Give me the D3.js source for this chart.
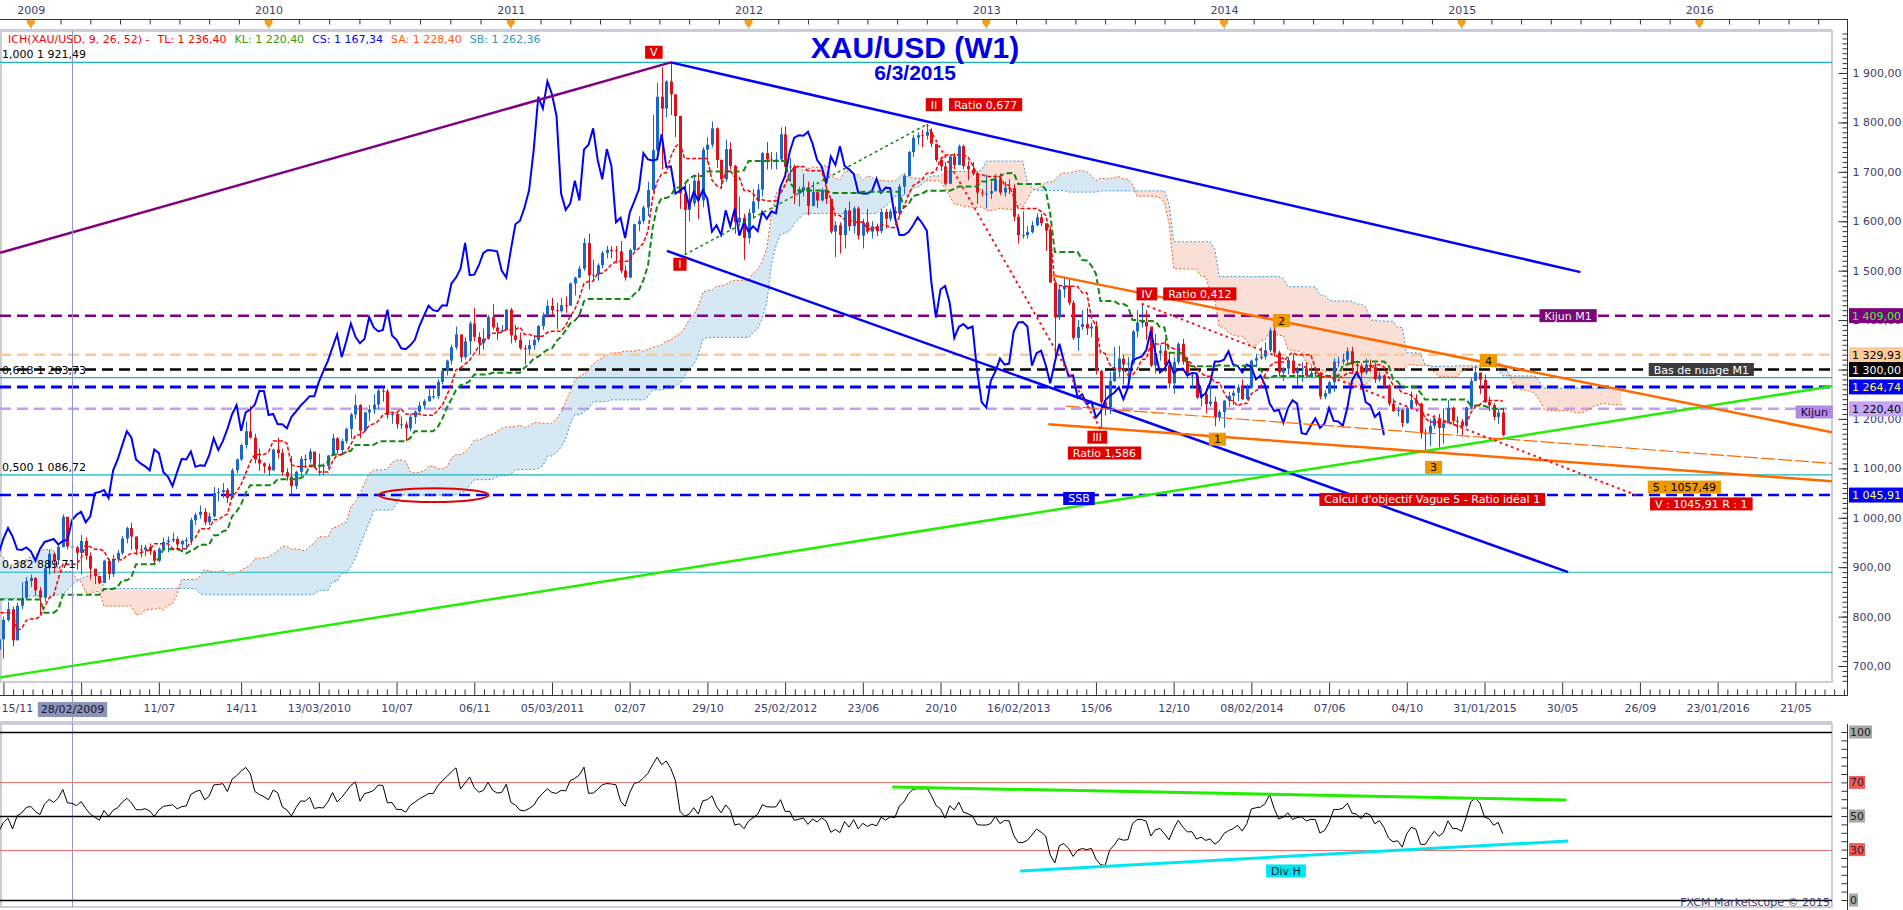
<!DOCTYPE html>
<html lang="fr">
<head>
<meta charset="utf-8">
<title>XAU/USD (W1)</title>
<script src="https://cdn.jsdelivr.net/npm/d3@7/dist/d3.min.js"></script>
<style>
  body { margin: 0; background: #fff; }
  svg { display: block; font-family: "DejaVu Sans", Verdana, sans-serif; font-size: 11px; }
</style>
</head>
<body>
<svg id="chart" width="1903" height="910"></svg>
<script>
// weekly candles [high, low, close], each week dated by its Saturday (FXCM style)
const firstWeek = '2007-04-28';
const w2007 = [
  [690,672,683],[694,674,674],[678,660,668],[672,652,656],[668,651,659],
  [670,653,656],[660,642,647],[662,645,656],[660,640,650],[662,648,656],
  [670,653,666],[685,662,681],[690,662,667],[674,660,670],
  [679,662,671],[675,650,662],[672,655,668],[677,660,673],
  [700,673,698],[715,695,712],[735,708,730],[745,720,743],[745,728,737],
  [750,735,749],[770,745,765],[790,764,789],[810,785,808],
  [845,800,833],[835,775,786],[830,785,825],[818,778,783],
  [808,783,803],[818,785,797],[815,792,812],[840,810,838]
];
const w2008 = [
  [870,836,863],
  [900,853,895],[915,871,882],[922,865,910],[936,905,922],
  [925,890,912],[925,895,906],[950,905,944],[975,935,972],
  [990,955,970],[1000,960,993],[1033,995,1006],[1012,915,925],[945,900,905],
  [935,895,926],[940,908,915],[945,895,899],[900,860,864],
  [890,856,885],[900,870,897],[935,895,924],[933,880,885],[905,870,897],
  [903,866,873],[905,875,902],[920,880,915],[946,913,935],
  [945,915,935],[980,930,958],[988,920,928],[932,905,913],
  [915,860,864],[870,772,787],[840,785,832],[840,810,835],[835,784,800],
  [800,741,762],[875,740,865],[915,860,880],[905,825,837],
  [935,855,860],[865,775,788],[800,681,736],[770,705,720],
  [765,715,733],[755,705,754],[800,715,793],[830,790,815],[820,740,752],
  [828,752,822],[870,815,838],[880,835,872],[885,860,878]
];
const w2009 = [
  [880,842,853],[860,805,838],[900,830,898],[935,885,927],[930,888,914],
  [948,905,941],[1007,940,1002],[1000,936,942],[955,902,940],
  [943,895,929],[965,885,953],[960,915,923],[930,875,897],
  [895,865.7,882],[880,866,868],[915,868,913],[915,875,886],
  [925,880,916],[935,910,929],[963,925,958],[982,948,979],[990,935,962],
  [962,925,936],[945,920,935],[945,922,940],[948,925,932],
  [935,905,913],[940,910,937],[960,935,951],[962,930,954],
  [970,950,957],[962,935,946],[955,930,953],[960,935,955],[1000,945,995],
  [1010,985,1006],[1025,998,1012],[1020,985,991],[1010,985,1003],
  [1062,1000,1050],[1060,1033,1052],[1070,1040,1056],[1060,1030,1040],[1100,1040,1096],
  [1120,1090,1118],[1150,1115,1147],[1195,1140,1175],[1226.1,1160,1162],
  [1170,1110,1118],[1140,1095,1110],[1112,1090,1104],[1110,1085,1096]
];
const w2010 = [
  [1140,1095,1138],[1162,1120,1131],[1140,1085,1092],[1100,1075,1083],[1125,1045,1064],
  [1095,1058,1093],[1125,1085,1119],[1128,1100,1118],[1140,1110,1134],
  [1128,1100,1103],[1130,1085,1106],[1110,1087,1105],[1127,1100,1126],
  [1170,1125,1161],[1163,1130,1137],[1160,1130,1155],[1182,1150,1180],
  [1212,1160,1209],[1249,1200,1228],[1230,1161,1176],[1215,1175,1213],[1228,1196,1219],
  [1250,1210,1229],[1262,1220,1257],[1265,1235,1256],[1260,1200,1208],
  [1215,1190,1210],[1215,1180,1189],[1205,1180,1189],[1195,1155,1181],[1210,1175,1204],
  [1217,1190,1215],[1235,1212,1227],[1240,1220,1236],[1260,1235,1246],
  [1260,1240,1246],[1280,1240,1275],[1300,1270,1297],[1320,1288,1318],
  [1350,1310,1345],[1387,1340,1371],[1370,1315,1325],[1365,1320,1357],[1398,1330,1393],
  [1425,1357,1366],[1375,1330,1353],[1383,1340,1362],[1410,1360,1406],
  [1432,1380,1385],[1395,1360,1377],[1390,1375,1380],[1422,1380,1421]
];
const w2011 = [
  [1425,1353,1369],[1390,1355,1360],[1375,1340,1343],[1350,1310,1341],[1360,1330,1349],
  [1370,1340,1360],[1390,1355,1388],[1415,1380,1409],[1440,1405,1429],
  [1445,1410,1420],[1435,1382,1418],[1445,1415,1430],[1448,1415,1429],
  [1476,1430,1474],[1488,1450,1486],[1510,1485,1504],[1566,1500,1556],[1575,1462,1491],
  [1522,1480,1492],[1515,1480,1511],[1540,1505,1536],[1550,1525,1542],
  [1550,1525,1541],[1550,1515,1539],[1560,1495,1500],[1510,1480,1486],
  [1545,1485,1542],[1595,1540,1594],[1610,1580,1601],[1632,1595,1628],[1680,1610,1663],
  [1815,1660,1744],[1880,1740,1852],[1912,1705,1828],[1885,1810,1883],
  [1921.49,1815,1857],[1835,1770,1813],[1813,1625,1656],[1680,1532,1623],
  [1675,1600,1636],[1695,1630,1682],[1698,1604,1642],[1750,1628,1745],[1770,1720,1755],
  [1802,1750,1788],[1790,1708,1724],[1725,1670,1685],[1765,1680,1746],
  [1760,1705,1712],[1714,1575,1598],[1650,1590,1607],[1615,1522,1566]
];
const w2012 = [
  [1625,1555,1617],
  [1665,1605,1640],[1675,1625,1664],[1740,1650,1738],[1760,1705,1725],
  [1740,1705,1723],[1740,1705,1725],[1790,1720,1776],[1792,1688,1710],
  [1728,1680,1711],[1715,1635,1656],[1670,1630,1662],[1696,1650,1669],[1680,1612,1631],
  [1680,1630,1659],[1660,1627,1642],[1668,1640,1663],[1670,1635,1645],
  [1645,1575,1579],[1600,1527,1592],[1598,1535,1572],[1627,1545,1622],
  [1640,1580,1590],[1630,1575,1626],[1630,1563,1571],[1605,1545,1598],[1625,1575,1579],
  [1600,1565,1590],[1595,1570,1580],[1625,1575,1619],[1625,1585,1605],
  [1625,1600,1620],[1630,1598,1616],[1675,1610,1670],[1695,1655,1692],
  [1742,1690,1740],[1775,1730,1769],[1780,1755,1774],[1785,1750,1773],[1796,1765,1781],
  [1788,1750,1757],[1755,1720,1724],[1730,1702,1711],[1720,1672,1676],
  [1735,1675,1731],[1738,1705,1714],[1755,1713,1752],[1755,1705,1712],
  [1722,1683,1705],[1720,1692,1696],[1700,1635,1658],[1665,1650,1656]
];
const w2013 = [
  [1695,1626,1656],
  [1680,1645,1661],[1695,1660,1686],[1697,1653,1658],[1680,1650,1668],
  [1685,1655,1667],[1675,1600,1609],[1615,1555,1572],[1620,1565,1572],
  [1590,1565,1578],[1600,1575,1592],[1616,1590,1608],[1615,1590,1596],[1585,1540,1581],
  [1590,1475,1476],[1480,1321,1405],[1470,1400,1462],[1488,1445,1469],
  [1485,1430,1435],[1440,1360,1364],[1400,1338,1386],[1420,1380,1392],
  [1425,1370,1383],[1395,1365,1387],[1398,1290,1297],[1300,1180,1234],[1268,1207,1223],
  [1295,1210,1277],[1346,1275,1296],[1348,1285,1322],[1330,1270,1310],
  [1325,1275,1312],[1380,1310,1377],[1420,1365,1395],[1433,1385,1396],[1420,1360,1387],
  [1385,1305,1308],[1372,1292,1333],[1350,1318,1338],[1362,1295,1309],
  [1335,1262,1272],[1325,1251,1315],[1355,1310,1352],[1362,1310,1316],
  [1325,1282,1287],[1295,1262,1288],[1292,1240,1243],[1262,1225,1250],[1262,1211,1230],
  [1267,1225,1235],[1245,1185,1203],[1218,1195,1214],[1238,1182,1237]
];
const w2014 = [
  [1255,1224,1247],[1258,1228,1253],[1270,1236,1264],[1280,1238,1240],
  [1270,1238,1263],[1320,1262,1318],[1332,1305,1323],[1345,1320,1326],
  [1355,1320,1339],[1385,1335,1379],[1392,1326,1334],[1338,1286,1294],[1305,1277,1302],
  [1325,1290,1318],[1331,1290,1293],[1305,1268,1300],[1315,1275,1302],
  [1315,1285,1288],[1306,1285,1293],[1300,1285,1292],[1295,1240,1245],[1258,1240,1252],
  [1277,1250,1274],[1323,1255,1316],[1326,1305,1316],[1332,1310,1320],
  [1345,1310,1337],[1346,1292,1310],[1318,1285,1307],[1312,1282,1294],
  [1322,1290,1310],[1320,1295,1305],[1313,1273,1280],[1295,1275,1288],[1290,1264,1268],
  [1270,1226,1231],[1241,1214,1216],[1225,1205,1218],[1220,1183,1192],
  [1225,1190,1222],[1255,1220,1238],[1250,1226,1231],[1233,1160,1171],
  [1180,1132.7,1169],[1200,1145,1186],[1208,1180,1201],[1210,1142,1182],[1222,1150,1191],
  [1238,1195,1222],[1225,1186,1196],[1205,1170,1195],[1200,1167,1186]
];
const w2015 = [
  [1225,1183,1223],[1283,1220,1277],[1307.8,1276,1294],[1289,1250,1279],[1290,1232,1234],
  [1245,1216,1228],[1232,1197,1204],[1220,1190,1213],[1222,1165,1167.34]
];

// legend of the Ichimoku study
const legendNames = ['ICH(XAU/USD, 9, 26, 52) -', 'TL:', 'KL:', 'CS:', 'SA:', 'SB:'];
const legendValues = [null, 1236.40, 1220.40, 1167.34, 1228.40, 1262.36];

// Fibonacci retracement
const fibRatios = ['1,000', '0,618', '0,500', '0,382'];
const fibLevels = [1921.49, 1283.73, 1086.72, 889.71];

// horizontal levels with a price tag on the axis
const levelValues = [1409.00, 1329.93, 1300.00, 1264.74, 1220.40, 1045.91];

// names written on some of the levels
const lineTagTexts = ['Kijun M1', 'Bas de nuage M1', 'Kijun', 'SSB'];
const lineTagDates = ['2015-06-08', '2015-12-29', '2016-06-19', '2013-05-20'];
const lineTagPrices = [1409.00, 1300.00, 1214.00, 1039.00];

// Elliott labels (red)
const waveTexts = ['V', 'I', 'II', 'Ratio 0,677', 'III', 'Ratio 1,586', 'IV', 'Ratio 0,412',
  "Calcul d'objectif Vague 5 - Ratio idéal 1", 'V : 1045,91 R : 1'];
const waveDates = ['2011-08-08', '2011-09-17', '2012-10-10', '2012-12-28', '2013-06-17', '2013-06-28',
  '2013-09-01', '2013-11-21', '2014-11-12', '2015-12-29'];
const wavePrices = [1942, 1513, 1836, 1836, 1163, 1131, 1453, 1453, 1037, 1028];

// sub-wave counts (orange)
const countTexts = ['1', '2', '3', '4', '5 : 1057,49'];
const countDates = ['2013-12-18', '2014-03-26', '2014-11-14', '2015-02-06', '2015-12-03'];
const countPrices = [1159, 1399, 1102, 1318, 1062];

// drawn trend lines: [date, price] end points
const trendPurple = [['2008-11-10', 1536], ['2011-09-03', 1921.49]];
const trendBlueUpper = [['2011-09-03', 1921.49], ['2015-06-27', 1497]];
const trendBlueLower = [['2011-08-28', 1540], ['2015-06-08', 890]];
const trendGreen = [['2008-11-10', 677], ['2016-07-16', 1266]];
const trendOrangeUpper = [['2013-04-09', 1491], ['2016-07-16', 1173]];
const trendOrangeLower = [['2013-04-03', 1189], ['2016-07-16', 1074]];
const trendOrangeThin = [['2013-04-30', 1226], ['2016-07-16', 1110]];
const waveIToII = [['2011-09-24', 1532], ['2012-09-29', 1796]];
const waveIIToIII = [['2012-09-29', 1796], ['2013-06-22', 1180]];
const waveIVToV = [['2013-08-24', 1433], ['2015-09-20', 1045.91]];

// red ellipse around the flat SSB
const ellipseCenter = ['2010-09-05', 1045.91];
const ellipseHalfDays = 84;
const ellipseHalfPrice = 14;

// RSI panel
const rsiLevels = [100, 70, 50, 30, 0];
const rsiResistance = [['2012-08-07', 67.3], ['2015-06-05', 59.5]];
const rsiSupport = [['2013-02-19', 17.3], ['2015-06-08', 35.1]];
const rsiTagText = 'Div H';
const rsiTagPoint = ['2014-04-02', 17.3];

// time axes
const yearLabels = ['2009', '2010', '2011', '2012', '2013', '2014', '2015', '2016'];
const yearTickDates = ['2008-12-27', '2009-12-26', '2011-01-01', '2011-12-31', '2012-12-29',
  '2013-12-28', '2014-12-27', '2015-12-26'];
const dateTickDates = ['2008-11-15', '2009-03-14', '2009-07-11', '2009-11-14', '2010-03-13',
  '2010-07-10', '2010-11-06', '2011-03-05', '2011-07-02', '2011-10-29', '2012-02-25',
  '2012-06-23', '2012-10-20', '2013-02-16', '2013-06-15', '2013-10-12', '2014-02-08',
  '2014-06-07', '2014-10-04', '2015-01-31', '2015-05-30', '2015-09-26', '2016-01-23', '2016-05-21'];
const dateTickLabels = ['15/11', '', '11/07', '14/11', '13/03/2010', '10/07', '06/11',
  '05/03/2011', '02/07', '29/10', '25/02/2012', '23/06', '20/10', '16/02/2013', '15/06',
  '12/10', '08/02/2014', '07/06', '04/10', '31/01/2015', '30/05', '26/09', '23/01/2016', '21/05'];
const cursorDate = '2009-02-28';
const cursorLabel = '28/02/2009';

const titleText = 'XAU/USD (W1)';
const subtitleText = '6/3/2015';
const creditText = 'FXCM Marketscope © 2015';

// ---------------------------------------------------------------------------
const parseDay = d3.timeParse('%Y-%m-%d');
const fmtPrice = d3.formatLocale({ decimal: ',', thousands: ' ', grouping: [3], currency: ['', ''] })
  .format(',.2f');

const svg = d3.select('#chart');
const plotLeft = 0, plotRight = 1832, plotTop = 31, plotBottom = 682;
const rsiTop = 724, rsiBottom = 907;
const axisX = 1847;
const axisColor = '#3d3d6b';
const upColor = '#1a66cc', downColor = '#e0101a';

const x = d3.scaleTime()
  .domain([parseDay('2009-02-28'), parseDay('2015-01-31')])
  .range([72, 1484.5]);
const y = d3.scaleLinear().domain([700, 1900]).range([666, 73]);
const yR = d3.scaleLinear().domain([0, 100]).range([900, 732]);

const start = parseDay(firstWeek);
const weekDate = i => d3.timeDay.offset(start, 7 * i);
const rows = [].concat(w2007, w2008, w2009, w2010, w2011, w2012, w2013, w2014, w2015);
const candles = rows.map((r, i) => ({
  date: weekDate(i), high: r[0], low: r[1], close: r[2], open: i ? rows[i - 1][2] : r[2]
}));

// Ichimoku 9 / 26 / 52
function midRange(i, n) {
  if (i < n - 1) return null;
  const win = candles.slice(i - n + 1, i + 1);
  return (d3.max(win, d => d.high) + d3.min(win, d => d.low)) / 2;
}
const tenkan = candles.map((d, i) => ({ date: d.date, v: midRange(i, 9) }));
const kijun = candles.map((d, i) => ({ date: d.date, v: midRange(i, 26) }));
const cloud = candles.map((d, i) => ({
  date: weekDate(i + 26),
  a: kijun[i].v == null ? null : (tenkan[i].v + kijun[i].v) / 2,
  b: midRange(i, 52)
})).filter(d => d.a != null && d.b != null);
const chikou = candles.slice(26).map((d, i) => ({ date: candles[i].date, v: d.close }));

// RSI 14 (Wilder)
const rsi = [];
let avgGain = 0, avgLoss = 0;
for (let i = 1; i < candles.length; i++) {
  const ch = candles[i].close - candles[i - 1].close;
  const g = Math.max(ch, 0), l = Math.max(-ch, 0);
  if (i <= 14) { avgGain += g / 14; avgLoss += l / 14; }
  else { avgGain = (avgGain * 13 + g) / 14; avgLoss = (avgLoss * 13 + l) / 14; }
  if (i >= 14) rsi.push({ date: candles[i].date, v: 100 - 100 / (1 + avgGain / avgLoss) });
}

const defs = svg.append('defs');
defs.append('clipPath').attr('id', 'clipMain').append('rect')
  .attr('x', plotLeft).attr('y', plotTop).attr('width', plotRight - plotLeft).attr('height', plotBottom - plotTop);
defs.append('clipPath').attr('id', 'clipRsi').append('rect')
  .attr('x', plotLeft).attr('y', rsiTop).attr('width', plotRight - plotLeft).attr('height', rsiBottom - rsiTop);

// frames
svg.append('rect').attr('x', plotLeft + 1).attr('y', plotTop).attr('width', plotRight - plotLeft - 1)
  .attr('height', plotBottom - plotTop).attr('fill', '#fff').attr('stroke', '#c9ced8').attr('stroke-width', 2);
svg.append('rect').attr('x', plotLeft + 1).attr('y', rsiTop).attr('width', plotRight - plotLeft - 1)
  .attr('height', rsiBottom - rsiTop).attr('fill', '#fff').attr('stroke', '#c9ced8').attr('stroke-width', 2);

const main = svg.append('g').attr('clip-path', 'url(#clipMain)');

// cloud
main.append('path').datum(cloud).attr('fill', '#d5e8f4')
  .attr('d', d3.area().x(d => x(d.date)).y0(d => y(d.b)).y1(d => y(Math.max(d.a, d.b))));
main.append('path').datum(cloud).attr('fill', '#f9dfd5')
  .attr('d', d3.area().x(d => x(d.date)).y0(d => y(d.a)).y1(d => y(Math.max(d.a, d.b))));

// fibonacci lines
main.selectAll('line.fib').data(fibLevels).join('line').attr('class', 'fib')
  .attr('x1', plotLeft).attr('x2', plotRight)
  .attr('y1', d => y(d)).attr('y2', d => y(d))
  .attr('stroke', '#19b4bb').attr('stroke-width', 1.2);

// horizontal dashed levels
const levelStroke = ['#800080', '#ffc995', '#000000', '#0000ff', '#c49cf6', '#0000ff'];
const levelWidth = [2.5, 2.5, 2.5, 3, 2.5, 2.5];
main.selectAll('line.level').data(levelValues).join('line').attr('class', 'level')
  .attr('x1', plotLeft).attr('x2', plotRight)
  .attr('y1', d => y(d)).attr('y2', d => y(d))
  .attr('stroke', (d, i) => levelStroke[i]).attr('stroke-width', (d, i) => levelWidth[i])
  .attr('stroke-dasharray', '11,6');

// cloud borders
main.append('path').datum(cloud).attr('fill', 'none').attr('stroke', '#ff5a14')
  .attr('stroke-width', 1).attr('stroke-dasharray', '2,2')
  .attr('d', d3.line().x(d => x(d.date)).y(d => y(d.a)));
main.append('path').datum(cloud).attr('fill', 'none').attr('stroke', '#3a9ad6')
  .attr('stroke-width', 1).attr('stroke-dasharray', '2,2')
  .attr('d', d3.line().x(d => x(d.date)).y(d => y(d.b)));

// candles
const vis = candles.filter(d => x(d.date) > -6);
const colorOf = d => d.close >= d.open ? upColor : downColor;
const candleG = main.append('g');
candleG.selectAll('line').data(vis).join('line')
  .attr('x1', d => Math.round(x(d.date)) + 0.5).attr('x2', d => Math.round(x(d.date)) + 0.5)
  .attr('y1', d => y(d.high)).attr('y2', d => y(d.low))
  .attr('stroke', colorOf).attr('stroke-width', 1);
candleG.selectAll('rect').data(vis).join('rect')
  .attr('x', d => Math.round(x(d.date)) - 1).attr('width', 3)
  .attr('y', d => y(Math.max(d.open, d.close)))
  .attr('height', d => Math.max(1, Math.abs(y(d.open) - y(d.close))))
  .attr('fill', colorOf);

// chikou, tenkan, kijun
const valueLine = d3.line().defined(d => d.v != null).x(d => x(d.date)).y(d => y(d.v));
main.append('path').datum(chikou).attr('fill', 'none').attr('stroke', '#0000ff')
  .attr('stroke-width', 2).attr('d', valueLine);
main.append('path').datum(kijun).attr('fill', 'none').attr('stroke', '#118811')
  .attr('stroke-width', 2).attr('stroke-dasharray', '6,3').attr('d', valueLine);
main.append('path').datum(tenkan).attr('fill', 'none').attr('stroke', '#ff0000')
  .attr('stroke-width', 1.5).attr('stroke-dasharray', '4,2').attr('d', valueLine);

// trend lines
const seg = d3.line().x(d => x(parseDay(d[0]))).y(d => y(d[1]));
const trendStyles = [
  [trendPurple, '#800080', 2.5, null],
  [trendBlueUpper, '#0000ff', 2.5, null],
  [trendBlueLower, '#0000ff', 2.5, null],
  [trendGreen, '#22ee00', 2.5, null],
  [trendOrangeUpper, '#ff6a00', 2.5, null],
  [trendOrangeLower, '#ff6a00', 2.5, null],
  [trendOrangeThin, '#ff6a00', 1.2, '14,3'],
  [waveIToII, '#118811', 1.5, '3,3'],
  [waveIIToIII, '#ff1010', 2, '2.5,3.5'],
  [waveIVToV, '#ff1010', 2, '2.5,3.5']
];
trendStyles.forEach(([pts, color, w, dash]) => {
  main.append('path').datum(pts).attr('fill', 'none').attr('stroke', color)
    .attr('stroke-width', w).attr('stroke-dasharray', dash).attr('d', seg);
});

// ellipse
const ec = parseDay(ellipseCenter[0]);
main.append('ellipse')
  .attr('cx', x(ec)).attr('cy', y(ellipseCenter[1]))
  .attr('rx', x(d3.timeDay.offset(ec, ellipseHalfDays)) - x(ec))
  .attr('ry', y(ellipseCenter[1] - ellipseHalfPrice) - y(ellipseCenter[1]))
  .attr('fill', 'none').attr('stroke', '#e00000').attr('stroke-width', 2);

// cursor line
const cx0 = Math.round(x(parseDay(cursorDate))) + 0.5;
svg.append('line').attr('x1', cx0).attr('x2', cx0).attr('y1', plotTop).attr('y2', rsiBottom)
  .attr('stroke', '#8f98c8').attr('stroke-width', 1);

// ---------------------------------------------------------------------------
// boxed labels
function boxLabel(g, cx, cy, text, fill, color, h) {
  const t = g.append('text').attr('x', cx).attr('y', cy + 4).attr('text-anchor', 'middle')
    .attr('fill', color).text(text);
  const w = t.node().getComputedTextLength() + 10;
  g.insert('rect', () => t.node()).attr('x', cx - w / 2).attr('y', cy - (h || 13) / 2)
    .attr('width', w).attr('height', h || 13).attr('fill', fill);
}
const labels = svg.append('g');
waveTexts.forEach((t, i) => boxLabel(labels, x(parseDay(waveDates[i])), y(wavePrices[i]), t, '#e00000', '#ffffff'));
countTexts.forEach((t, i) => boxLabel(labels, x(parseDay(countDates[i])), y(countPrices[i]), t, '#f09800', '#000000'));
const lineTagFill = ['#7a087a', '#3c3c3c', '#b28ae6', '#0000ee'];
const lineTagColor = ['#f0f0f0', '#ffffff', '#200030', '#ffffff'];
lineTagTexts.forEach((t, i) => boxLabel(labels, x(parseDay(lineTagDates[i])), y(lineTagPrices[i]), t, lineTagFill[i], lineTagColor[i]));

// fibonacci labels
labels.selectAll('text.fibl').data(fibLevels).join('text').attr('class', 'fibl')
  .attr('x', 2).attr('y', d => y(d) - 4).attr('fill', '#000')
  .text((d, i) => fibRatios[i] + ' ' + fmtPrice(d));

// legend
const legendColors = ['#ff0000', '#ff0000', '#3a9a00', '#0000ff', '#ff5a1a', '#3399cc'];
let lx = 8;
legendNames.forEach((n, i) => {
  const t = labels.append('text').attr('x', lx).attr('y', 43).attr('fill', legendColors[i])
    .text(legendValues[i] == null ? n : n + ' ' + fmtPrice(legendValues[i]));
  lx += t.node().getComputedTextLength() + 8;
});

// title
labels.append('text').attr('x', 915).attr('y', 58).attr('text-anchor', 'middle')
  .attr('font-family', '"Liberation Sans", Arial, sans-serif').attr('font-weight', 'bold')
  .attr('font-size', 30).attr('fill', '#0000e6').text(titleText);
labels.append('text').attr('x', 915).attr('y', 80).attr('text-anchor', 'middle')
  .attr('font-family', '"Liberation Sans", Arial, sans-serif').attr('font-weight', 'bold')
  .attr('font-size', 21).attr('fill', '#0000e6').text(subtitleText);

// ---------------------------------------------------------------------------
// axes
function styleAxis(g) {
  g.attr('font-family', '"DejaVu Sans", Verdana, sans-serif').attr('font-size', 11).attr('color', '#333');
  g.selectAll('text').attr('fill', axisColor);
  g.select('.domain').remove();
}
function ticksOnly(g) {
  styleAxis(g);
  g.selectAll('text').remove();
}

// top: years
svg.append('line').attr('x1', 0).attr('x2', axisX).attr('y1', 19.5).attr('y2', 19.5).attr('stroke', '#333');
const yearDates = yearTickDates.map(parseDay);
const topMinor = [];
yearDates.forEach((d, i) => {
  const next = i < yearDates.length - 1 ? yearDates[i + 1] : d3.timeDay.offset(d, 364);
  for (let k = 1; k < 8; k++) topMinor.push(new Date(+d + (next - d) * k / 8));
});
svg.append('g').attr('transform', 'translate(0,19.5)')
  .call(d3.axisTop(x).tickValues(topMinor.filter(d => x(d) < axisX - 2)).tickSizeInner(-5).tickSizeOuter(0))
  .call(ticksOnly);
svg.append('g').attr('transform', 'translate(0,19.5)')
  .call(d3.axisTop(x).tickValues(yearDates).tickFormat((d, i) => yearLabels[i]).tickSizeInner(-11).tickSizeOuter(0).tickPadding(6))
  .call(styleAxis)
  .call(g => g.selectAll('.tick line').attr('stroke', '#b8bcc8'));
svg.append('g').selectAll('path').data(yearDates).join('path')
  .attr('d', d => { const px = x(d); return `M${px - 4},20 L${px + 4},20 L${px + 4},23 L${px},28 L${px - 4},23 Z`; })
  .attr('fill', '#f5a020');
svg.append('line').attr('x1', 0).attr('x2', plotRight).attr('y1', 30).attr('y2', 30).attr('stroke', '#c9ced8').attr('stroke-width', 2);

// right: prices
svg.append('line').attr('x1', axisX + 0.5).attr('x2', axisX + 0.5).attr('y1', 19).attr('y2', 696).attr('stroke', '#333');
svg.append('g').attr('transform', `translate(${axisX + 0.5},0)`)
  .call(d3.axisRight(y).tickValues(d3.range(670, 1990, 10)).tickSizeInner(-5).tickSizeOuter(0))
  .call(ticksOnly);
svg.append('g').attr('transform', `translate(${axisX + 0.5},0)`)
  .call(d3.axisRight(y).tickValues(d3.range(700, 1901, 100)).tickFormat(fmtPrice).tickSizeInner(-9).tickSizeOuter(0).tickPadding(5))
  .call(styleAxis);

// price tags on the axis
const tagFill = ['#800080', '#ffc995', '#000000', '#0000ff', '#c8a4f4', '#0000ff'];
const tagColor = ['#33ff33', '#000000', '#ffffff', '#ffff44', '#000000', '#ffff44'];
const tags = svg.append('g');
tags.selectAll('rect').data(levelValues).join('rect')
  .attr('x', axisX + 2).attr('y', d => y(d) - 7.5).attr('width', 1903 - axisX - 2).attr('height', 15)
  .attr('fill', (d, i) => tagFill[i]);
tags.selectAll('text').data(levelValues).join('text')
  .attr('x', axisX + 5).attr('y', d => y(d) + 4).attr('fill', (d, i) => tagColor[i])
  .text(d => fmtPrice(d));

// bottom: dates
svg.append('line').attr('x1', 0).attr('x2', axisX).attr('y1', 695.5).attr('y2', 695.5).attr('stroke', '#333');
const majorDates = dateTickDates.map(parseDay);
const bottomMinor = [];
majorDates.forEach((d, i) => {
  const next = i < majorDates.length - 1 ? majorDates[i + 1] : d3.timeWeek.offset(d, 17);
  for (let k = 1; k < 8; k++) bottomMinor.push(new Date(+d + (next - d) * k / 8));
});
svg.append('g').attr('transform', 'translate(0,695.5)')
  .call(d3.axisBottom(x).tickValues(bottomMinor.filter(d => x(d) < axisX - 2)).tickSizeInner(-6).tickSizeOuter(0))
  .call(ticksOnly);
const bottomAxis = svg.append('g').attr('transform', 'translate(0,695.5)')
  .call(d3.axisBottom(x).tickValues(majorDates).tickFormat((d, i) => dateTickLabels[i]).tickSizeInner(-13).tickSizeOuter(0).tickPadding(9))
  .call(styleAxis);
bottomAxis.selectAll('.tick text').each(function (d) {
  if (x(d) < 20) d3.select(this).attr('text-anchor', 'start').attr('x', 1 - x(d));
});
// cursor date label
const cl = svg.append('g');
const clt = cl.append('text').attr('x', cx0).attr('y', 713).attr('text-anchor', 'middle')
  .attr('fill', '#14143a').text(cursorLabel);
const clw = clt.node().getComputedTextLength() + 6;
cl.insert('rect', () => clt.node()).attr('x', cx0 - clw / 2).attr('y', 702).attr('width', clw).attr('height', 15).attr('fill', '#8c94b8');
svg.append('line').attr('x1', 0).attr('x2', plotRight).attr('y1', 722).attr('y2', 722).attr('stroke', '#c9ced8').attr('stroke-width', 2);

// ---------------------------------------------------------------------------
// RSI panel
const rsiG = svg.append('g').attr('clip-path', 'url(#clipRsi)');
rsiG.selectAll('line.lvl').data(rsiLevels).join('line').attr('class', 'lvl')
  .attr('x1', plotLeft).attr('x2', plotRight)
  .attr('y1', d => Math.round(yR(d)) + 0.5).attr('y2', d => Math.round(yR(d)) + 0.5)
  .attr('stroke', d => (d === 70 || d === 30) ? '#f07070' : '#000')
  .attr('stroke-width', d => (d === 70 || d === 30) ? 1 : 1.5);
rsiG.append('path').datum(rsi).attr('fill', 'none').attr('stroke', '#000').attr('stroke-width', 1)
  .attr('d', d3.line().x(d => x(d.date)).y(d => yR(d.v)));
const rsiSeg = d3.line().x(d => x(parseDay(d[0]))).y(d => yR(d[1]));
rsiG.append('path').datum(rsiResistance).attr('fill', 'none').attr('stroke', '#22ee00').attr('stroke-width', 3).attr('d', rsiSeg);
rsiG.append('path').datum(rsiSupport).attr('fill', 'none').attr('stroke', '#00e6f0').attr('stroke-width', 3).attr('d', rsiSeg);
boxLabel(svg.append('g'), x(parseDay(rsiTagPoint[0])), yR(rsiTagPoint[1]), rsiTagText, '#00e6f0', '#102030');

svg.append('text').attr('x', plotRight - 2).attr('y', 906).attr('text-anchor', 'end')
  .attr('fill', axisColor).text(creditText);

// RSI axis
svg.append('line').attr('x1', axisX + 0.5).attr('x2', axisX + 0.5).attr('y1', rsiTop).attr('y2', 910).attr('stroke', '#333');
svg.append('g').attr('transform', `translate(${axisX + 0.5},0)`)
  .call(d3.axisRight(yR).tickValues(d3.range(0, 101, 5)).tickSizeInner(-6).tickSizeOuter(0))
  .call(ticksOnly);
const rsiTagFill = ['#a8a8a8', '#f25a5a', '#a8a8a8', '#f25a5a', '#a8a8a8'];
const rsiAxisG = svg.append('g');
rsiLevels.forEach((v, i) => {
  const t = rsiAxisG.append('text').attr('x', axisX + 3).attr('y', yR(v) + 4).attr('fill', '#222').text(v);
  const w = t.node().getComputedTextLength() + 2;
  rsiAxisG.insert('rect', () => t.node()).attr('x', axisX + 2).attr('y', yR(v) - 6.5)
    .attr('width', w).attr('height', 13).attr('fill', rsiTagFill[i]);
});
</script>
</body>
</html>
